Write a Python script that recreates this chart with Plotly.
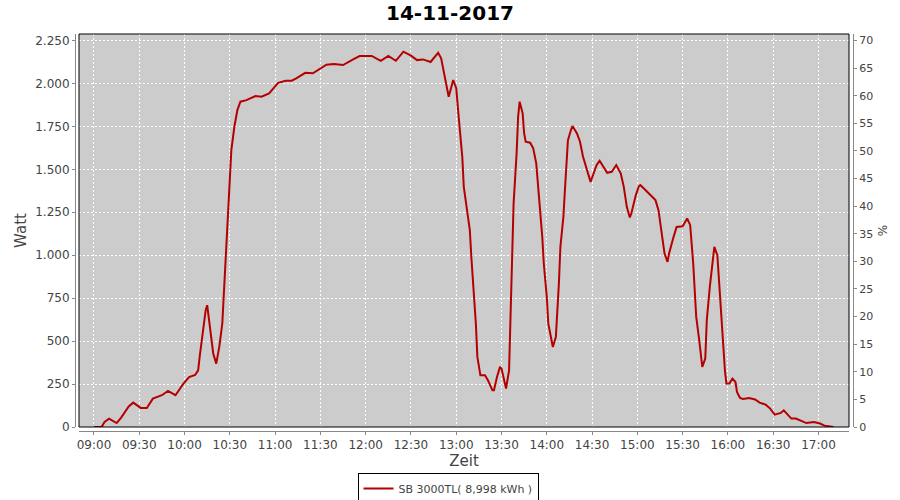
import plotly.graph_objects as go

DATE = "2017-11-14"
TITLE = "14-11-2017"
SERIES_NAME = "SB 3000TL( 8,998 kWh )"

times = [
    "09:00", "09:05", "09:07", "09:10", "09:15", "09:18", "09:23", "09:26", "09:31", "09:35",
    "09:39", "09:45", "09:49", "09:54", "09:59", "10:03", "10:07", "10:09", "10:10", "10:12",
    "10:14", "10:15", "10:17", "10:19", "10:21", "10:23", "10:25", "10:26", "10:28", "10:29",
    "10:30", "10:31", "10:33", "10:35", "10:37", "10:41", "10:47", "10:51", "10:56", "11:02",
    "11:07", "11:11", "11:14", "11:20", "11:25", "11:30", "11:34", "11:39", "11:45", "11:52",
    "11:56", "12:04", "12:06", "12:10", "12:15", "12:20", "12:25", "12:30", "12:34", "12:38",
    "12:43", "12:48", "12:50", "12:53", "12:55", "12:58", "13:00", "13:02", "13:04", "13:05",
    "13:07", "13:09", "13:10", "13:12", "13:13", "13:14", "13:16", "13:19", "13:21", "13:24",
    "13:25", "13:27", "13:29", "13:30", "13:32", "13:33", "13:35", "13:36", "13:37", "13:38",
    "13:40", "13:41", "13:42", "13:44", "13:45", "13:46", "13:49", "13:51", "13:53", "13:54",
    "13:55", "13:57", "13:58", "14:00", "14:01", "14:03", "14:04", "14:06", "14:07", "14:08",
    "14:09", "14:11", "14:12", "14:13", "14:14", "14:16", "14:17", "14:20", "14:22", "14:24",
    "14:27", "14:29", "14:31", "14:33", "14:35", "14:37", "14:40", "14:43", "14:46", "14:49",
    "14:51", "14:53", "14:55", "14:56", "14:59", "15:01", "15:02", "15:05", "15:09", "15:12",
    "15:14", "15:16", "15:18", "15:20", "15:21", "15:24", "15:26", "15:30", "15:32", "15:33",
    "15:35", "15:36", "15:37", "15:38", "15:39", "15:41", "15:42", "15:43", "15:45", "15:46",
    "15:48", "15:50", "15:51", "15:53", "15:54", "15:55", "15:56", "15:57", "15:58", "15:59",
    "16:01", "16:03", "16:05", "16:06", "16:08", "16:10", "16:14", "16:18", "16:21", "16:25",
    "16:28", "16:31", "16:35", "16:37", "16:39", "16:42", "16:45", "16:49", "16:52", "16:57",
    "17:01", "17:04", "17:08", "17:10",
]

watts = [
    0, 0, 29, 49, 23, 55, 120, 142, 111, 111,
    165, 185, 210, 185, 249, 291, 303, 330, 408, 544,
    680, 709, 583, 428, 369, 466, 602, 777, 1049, 1262,
    1457, 1612, 1748, 1845, 1894, 1903, 1927, 1923, 1942, 2004,
    2016, 2016, 2030, 2062, 2059, 2088, 2109, 2113, 2107, 2142,
    2160, 2160, 2150, 2132, 2160, 2132, 2185, 2162, 2136, 2140,
    2125, 2178, 2146, 2001, 1923, 2020, 1972, 1768, 1573, 1398,
    1262, 1146, 990, 757, 602, 408, 301, 301, 272, 214,
    214, 291, 350, 340, 253, 224, 330, 641, 990, 1301,
    1593, 1806, 1894, 1826, 1709, 1661, 1655, 1622, 1535, 1437,
    1301, 1107, 952, 757, 602, 524, 466, 524, 661, 835,
    1049, 1224, 1379, 1535, 1670, 1729, 1752, 1709, 1661, 1573,
    1476, 1427, 1476, 1525, 1550, 1525, 1480, 1486, 1525, 1476,
    1398, 1282, 1220, 1243, 1350, 1402, 1408, 1383, 1350, 1321,
    1262, 1127, 1010, 961, 1010, 1107, 1165, 1169, 1204, 1214,
    1175, 1068, 952, 796, 641, 505, 408, 350, 398, 622,
    816, 971, 1049, 1000, 874, 719, 563, 447, 330, 253,
    253, 282, 262, 204, 169, 163, 169, 160, 142, 130,
    107, 72, 82, 97, 78, 49, 49, 35, 23, 29,
    20, 8, 0, 0,
]

x_tick_labels = ["09:00", "09:30", "10:00", "10:30", "11:00", "11:30", "12:00", "12:30",
                 "13:00", "13:30", "14:00", "14:30", "15:00", "15:30", "16:00", "16:30", "17:00"]
y_ticks = [0, 250, 500, 750, 1000, 1250, 1500, 1750, 2000, 2250]
y2_ticks = [0, 5, 10, 15, 20, 25, 30, 35, 40, 45, 50, 55, 60, 65, 70]

x = [f"{DATE} {t}" for t in times]

FONT = "DejaVu Sans"
TICK_COLOR = "#444444"
AXIS_COLOR = "#888888"

M_L, M_R = 75, 47
M_T, M_B = 34, 69
paper_w = 900 - M_L - M_R
paper_h = 500 - M_T - M_B
off = 4
ymax = 2288
y2max = ymax * 70 / 2250

fig = go.Figure()
fig.add_trace(go.Scatter(
    x=x, y=watts, mode="lines", name=SERIES_NAME,
    line=dict(color="#b40000", width=2),
))
fig.add_trace(go.Scatter(
    x=[x[0]], y=[None], yaxis="y2", mode="lines", showlegend=False, hoverinfo="skip",
))

fig.update_layout(
    width=900, height=500,
    margin=dict(l=M_L, r=M_R, t=M_T, b=M_B, pad=0, autoexpand=False),
    paper_bgcolor="white", plot_bgcolor="#cccccc",
    separators=",.",
    font=dict(family=FONT, size=12, color=TICK_COLOR),
    title=dict(text=f"<b>{TITLE}</b>", x=0.5, xref="container", xanchor="center",
               y=1 - 13 / 500, yanchor="middle", yref="container", automargin=False,
               font=dict(family=FONT, size=20, color="black")),
    xaxis=dict(
        type="date", automargin=False,
        domain=[off / paper_w, 1 - off / paper_w],
        range=[f"{DATE} 08:50:04", f"{DATE} 17:20:13"],
        tickmode="array",
        tickvals=[f"{DATE} {t}" for t in x_tick_labels],
        ticktext=x_tick_labels,
        showgrid=True, gridcolor="white", gridwidth=1, griddash="2px,2px",
        showline=True, linecolor=AXIS_COLOR, linewidth=1,
        ticks="outside", ticklen=3, tickcolor=AXIS_COLOR,
        tickfont=dict(family=FONT, size=12, color=TICK_COLOR),
        anchor="free", position=0,
        zeroline=False,
        title=dict(text="Zeit", font=dict(family=FONT, size=15, color=TICK_COLOR), standoff=4),
    ),
    yaxis=dict(
        domain=[off / paper_h, 1], automargin=False,
        range=[0, ymax],
        tickmode="array", tickvals=y_ticks,
        tickformat=",.0f",
        showgrid=True, gridcolor="white", gridwidth=1, griddash="2px,2px",
        showline=True, linecolor=AXIS_COLOR, linewidth=1,
        ticks="outside", ticklen=3, tickcolor=AXIS_COLOR,
        tickfont=dict(family=FONT, size=12, color=TICK_COLOR),
        anchor="free", position=0,
        zeroline=False,
        title=dict(text="Watt", font=dict(family=FONT, size=15, color=TICK_COLOR), standoff=3),
    ),
    yaxis2=dict(
        overlaying="y", side="right", automargin=False,
        range=[0, y2max],
        tickmode="array", tickvals=y2_ticks,
        showgrid=False,
        showline=True, linecolor=AXIS_COLOR, linewidth=1,
        ticks="outside", ticklen=3, tickcolor=AXIS_COLOR,
        tickfont=dict(family=FONT, size=11, color=TICK_COLOR),
        anchor="free", position=1,
        zeroline=False,
        title=dict(text="%", font=dict(family=FONT, size=12, color=TICK_COLOR), standoff=6),
    ),
    legend=dict(
        orientation="h", x=0.5 - 16 / paper_w, xanchor="center", y=-42 / paper_h, yanchor="top",
        bordercolor="black", borderwidth=1, bgcolor="white",
        font=dict(family=FONT, size=11, color=TICK_COLOR),
        itemwidth=30, tracegroupgap=0,
    ),
    shapes=[dict(type="rect", xref="x domain", yref="y domain", x0=0, x1=1, y0=0, y1=1,
                 line=dict(color="black", width=1), layer="above")],
)

fig.write_html("out.html", config={"displayModeBar": False},
               post_script="document.body.style.margin='0px';")
